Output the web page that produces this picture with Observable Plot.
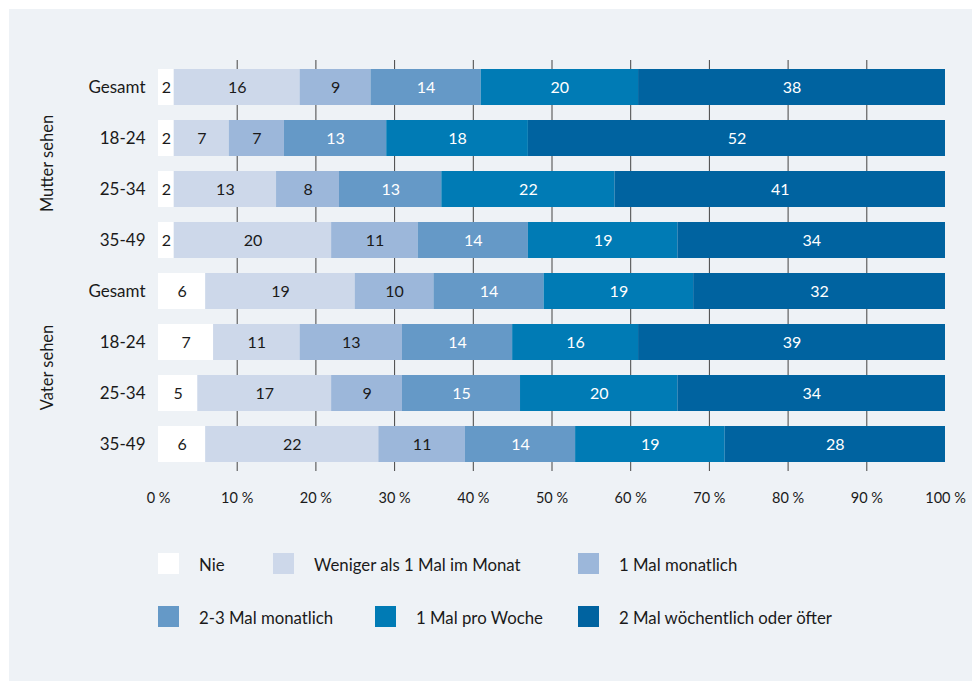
<!DOCTYPE html>
<html>
<head>
<meta charset="utf-8">
<script src="https://cdn.jsdelivr.net/npm/d3@7"></script>
<script src="https://cdn.jsdelivr.net/npm/@observablehq/plot@0.6"></script>
<style>
  html, body { margin: 0; padding: 0; background: #ffffff; }
  body { width: 972px; height: 681px; position: relative; overflow: hidden; font-family: Lato, "Open Sans", sans-serif; color: #1a1a1a; }
  #panel { position: absolute; left: 9px; top: 9px; width: 963px; height: 672px; background: #eef2f6; }
  #chart { position: absolute; left: 0; top: 0; }
  .item { position: absolute; display: flex; align-items: center; height: 21px; white-space: nowrap; font-size: 16.8px; }
  .sw { width: 21px; height: 21px; margin-right: 20px; flex: none; }
</style>
</head>
<body>
<div id="panel"></div>
<div id="chart"></div>
<div id="legend"></div>
<script>
const categories = ["Nie", "Weniger als 1 Mal im Monat", "1 Mal monatlich", "2-3 Mal monatlich", "1 Mal pro Woche", "2 Mal wöchentlich oder öfter"];
const colors = ["#ffffff", "#cdd8ea", "#9cb7da", "#6599c7", "#007bb5", "#0063a0"];
const groups = ["Mutter sehen", "Mutter sehen", "Mutter sehen", "Mutter sehen", "Vater sehen", "Vater sehen", "Vater sehen", "Vater sehen"];
const ages = ["Gesamt", "18-24", "25-34", "35-49", "Gesamt", "18-24", "25-34", "35-49"];
const nie = [2, 2, 2, 2, 6, 7, 5, 6];
const weniger = [16, 7, 13, 20, 19, 11, 17, 22];
const monatlich1 = [9, 7, 8, 11, 10, 13, 9, 11];
const monatlich23 = [14, 13, 13, 14, 14, 14, 15, 14];
const woche1 = [20, 18, 22, 19, 19, 16, 20, 19];
const woechentlich2 = [38, 52, 41, 34, 32, 39, 34, 28];
const xTicks = [0, 10, 20, 30, 40, 50, 60, 70, 80, 90, 100];

const series = [nie, weniger, monatlich1, monatlich23, woche1, woechentlich2];
const rowKeys = ages.map((a, i) => groups[i] + "|" + a);

const segments = [];
rowKeys.forEach((row, i) => {
  let cum = 0;
  series.forEach((s, j) => {
    const w = j === series.length - 1 ? 100 - cum : s[i];
    segments.push({row, cat: categories[j], idx: j, value: s[i], x1: cum, x2: cum + w});
    cum += w;
  });
});

const FONT = "Lato, 'Open Sans', sans-serif";

const chart = Plot.plot({
  width: 972,
  height: 520,
  marginLeft: 158,
  marginRight: 27,
  marginTop: 60,
  marginBottom: 49,
  style: {background: "transparent", fontFamily: FONT, fontSize: "16px", color: "#1a1a1a"},
  x: {domain: [0, 100], axis: null},
  y: {domain: rowKeys, paddingInner: 0.298, paddingOuter: 0.156, axis: null},
  color: {domain: categories, range: colors},
  marks: [
    Plot.ruleX(xTicks.slice(1, -1), {stroke: "#444", strokeWidth: 1}),
    Plot.barX(segments, {x1: "x1", x2: "x2", y: "row", fill: "cat"}),
    Plot.text(segments, {x: d => (d.x1 + d.x2) / 2, y: "row", text: "value", fontSize: 16,
      fill: d => d.idx >= 3 ? "#ffffff" : "#1a1a1a"}),
    Plot.axisX({ticks: xTicks, tickSize: 0, tickPadding: 21, label: null, tickFormat: d => d + " %", fontSize: 14.5}),
    Plot.axisY({tickSize: 0, tickPadding: 13, label: null, tickFormat: k => k.split("|")[1], fontSize: 17})
  ]
});
document.getElementById("chart").appendChild(chart);

// group labels positioned via the chart's own y scale
const yScale = chart.scale("y");
const groupNames = Array.from(new Set(groups));
const svg = d3.select(chart);
groupNames.forEach(g => {
  const rows = rowKeys.filter((k, i) => groups[i] === g);
  const top = yScale.apply(rows[0]);
  const bottom = yScale.apply(rows[rows.length - 1]) + yScale.bandwidth;
  const cy = (top + bottom) / 2;
  svg.append("text")
    .attr("transform", `translate(48,${cy}) rotate(-90)`)
    .attr("text-anchor", "middle")
    .attr("dy", "0.32em")
    .attr("font-family", FONT)
    .attr("font-size", 16.5)
    .attr("fill", "#1a1a1a")
    .text(g);
});

// legend: two rows of three entries
const legendLeft = [[158, 273, 578], [158, 375, 578]];
const legendTop = [553, 606];
const legend = document.getElementById("legend");
categories.forEach((c, i) => {
  const r = Math.floor(i / 3), k = i % 3;
  const item = document.createElement("div");
  item.className = "item";
  item.style.left = legendLeft[r][k] + "px";
  item.style.top = legendTop[r] + "px";
  const sw = document.createElement("span");
  sw.className = "sw";
  sw.style.background = colors[i];
  const t = document.createElement("span");
  t.style.position = "relative";
  t.style.top = "1px";
  t.textContent = c;
  item.appendChild(sw);
  item.appendChild(t);
  legend.appendChild(item);
});
</script>
</body>
</html>
